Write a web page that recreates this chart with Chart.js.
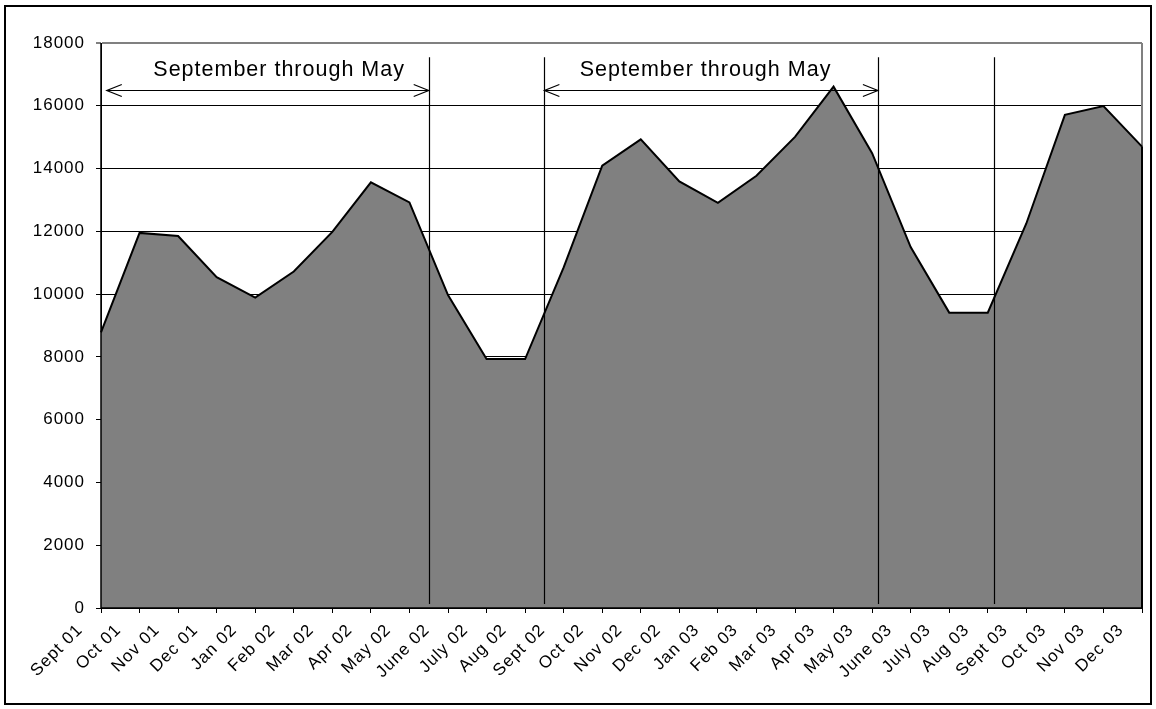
<!DOCTYPE html>
<html><head><meta charset="utf-8">
<script src="https://cdn.jsdelivr.net/npm/chart.js@4/dist/chart.umd.min.js"></script>
<style>html,body{margin:0;padding:0;background:#fff}#wrap{width:1156px;height:709px;position:relative}</style>
</head><body><div id="wrap"><canvas id="c" width="1156" height="709"></canvas></div>
<script>
const months = ['Sept 01','Oct 01','Nov 01','Dec 01','Jan 02','Feb 02','Mar 02','Apr 02','May 02','June 02','July 02','Aug 02','Sept 02','Oct 02','Nov 02','Dec 02','Jan 03','Feb 03','Mar 03','Apr 03','May 03','June 03','July 03','Aug 03','Sept 03','Oct 03','Nov 03','Dec 03'];
const volumes = [8780,11950,11850,10540,9890,10720,11980,13560,12920,9970,7930,7930,10850,14090,14930,13590,12910,13770,15010,16610,14490,11500,9410,9410,12250,15710,15990,14700];
const yMin = 0, yMax = 18000, yStep = 2000;
const dividerIdx = [8.5, 11.5, 20.15, 23.15];
const dividerRange = [130, 17550];
const spanStart = [0.15, 11.5];
const spanEnd = [8.5, 20.15];
const spanArrowValue = 16500;
const spanLabel = 'September through May';
const spanLabelIdx = [4.62, 15.68];
const spanLabelValue = 16960;

const FONT = "'Liberation Sans', Arial, sans-serif";

const deco = {
  id: 'deco',
  beforeUpdate(chart){ chart.ctx.letterSpacing = '1px'; },
  beforeDraw(chart){
    const c = chart.ctx;
    c.letterSpacing = '1px';
    c.save(); c.fillStyle = '#fff'; c.fillRect(0,0,chart.width,chart.height); c.restore();
  },
  beforeDatasetsDraw(chart){
    const c = chart.ctx, a = chart.chartArea;
    c.save();
    c.strokeStyle = '#808080'; c.lineWidth = 2;
    c.beginPath(); c.moveTo(a.right, a.top); c.lineTo(a.right, a.bottom); c.stroke();
    c.restore();
  },
  afterDatasetsDraw(chart){
    const c = chart.ctx, a = chart.chartArea, xs = chart.scales.x, ys = chart.scales.y;
    const meta = chart.getDatasetMeta(0);
    const last = meta.data[meta.data.length-1];
    const y0 = ys.getPixelForValue(0);
    c.save();
    c.strokeStyle = '#000'; c.lineWidth = 2;
    c.beginPath(); c.moveTo(last.x, last.y); c.lineTo(last.x, y0); c.stroke();
    c.lineWidth = 1.5;
    c.beginPath(); c.moveTo(a.left, a.top); c.lineTo(a.left, a.bottom); c.lineTo(a.right, a.bottom); c.stroke();
    c.lineWidth = 1.2;
    dividerIdx.forEach(i => {
      const x = Math.round(xs.getPixelForValue(i)) + 0.5;
      c.beginPath(); c.moveTo(x, ys.getPixelForValue(dividerRange[1])); c.lineTo(x, ys.getPixelForValue(dividerRange[0])); c.stroke();
    });
    const ay = Math.round(ys.getPixelForValue(spanArrowValue)) + 0.5;
    spanStart.forEach((s, k) => {
      const x1 = xs.getPixelForValue(s), x2 = xs.getPixelForValue(spanEnd[k]);
      c.beginPath(); c.moveTo(x1, ay); c.lineTo(x2, ay); c.stroke();
      c.beginPath(); c.moveTo(x1 + 15, ay - 6); c.lineTo(x1, ay); c.lineTo(x1 + 15, ay + 6); c.stroke();
      c.beginPath(); c.moveTo(x2 - 15, ay - 6); c.lineTo(x2, ay); c.lineTo(x2 - 15, ay + 6); c.stroke();
    });
    c.fillStyle = '#000';
    c.font = '21.5px ' + FONT;
    c.letterSpacing = '1px';
    c.textAlign = 'center'; c.textBaseline = 'alphabetic';
    spanLabelIdx.forEach(i => {
      c.fillText(spanLabel, xs.getPixelForValue(i), ys.getPixelForValue(spanLabelValue));
    });
    c.restore();
  },
  afterDraw(chart){
    const c = chart.ctx;
    c.save();
    c.strokeStyle = '#000'; c.lineWidth = 2;
    c.strokeRect(5, 6, 1146, 698);
    c.restore();
  }
};

new Chart(document.getElementById('c'), {
  type: 'line',
  data: {
    labels: months,
    datasets: [{
      data: volumes,
      fill: 'origin',
      backgroundColor: '#808080',
      borderColor: '#000',
      borderWidth: 2,
      tension: 0,
      pointRadius: 0,
      pointHoverRadius: 0
    }]
  },
  options: {
    responsive: false,
    animation: false,
    devicePixelRatio: 1,
    layout: { padding: { left: 0, right: 14, top: 43, bottom: 0 } },
    plugins: { legend: { display: false }, tooltip: { enabled: false }, title: { display: false } },
    scales: {
      x: {
        type: 'category',
        offset: false,
        grid: { drawOnChartArea: false, drawTicks: true, tickLength: 5, color: '#000', lineWidth: 1 },
        border: { display: true, color: '#000', width: 1 },
        ticks: {
          autoSkip: false, maxRotation: 45, minRotation: 45,
          color: '#000', font: { family: FONT, size: 17 },
          labelOffset: -21, padding: 7
        },
        afterFit(s){ s.height = 101; s.paddingRight = 0; s.paddingLeft = 0; }
      },
      y: {
        min: yMin, max: yMax,
        grid: {
          color: ctx => (ctx.tick && ctx.tick.value === yMax) ? '#808080' : '#000',
          lineWidth: ctx => (ctx.tick && ctx.tick.value === yMax) ? 2 : 1,
          tickLength: 5, drawTicks: true
        },
        border: { display: true, color: '#000', width: 1 },
        ticks: {
          stepSize: yStep, color: '#000', font: { family: FONT, size: 17 }, padding: 11,
          callback: v => String(v)
        },
        afterFit(s){ s.width = 101; }
      }
    }
  },
  plugins: [deco]
});
</script>
</body></html>
